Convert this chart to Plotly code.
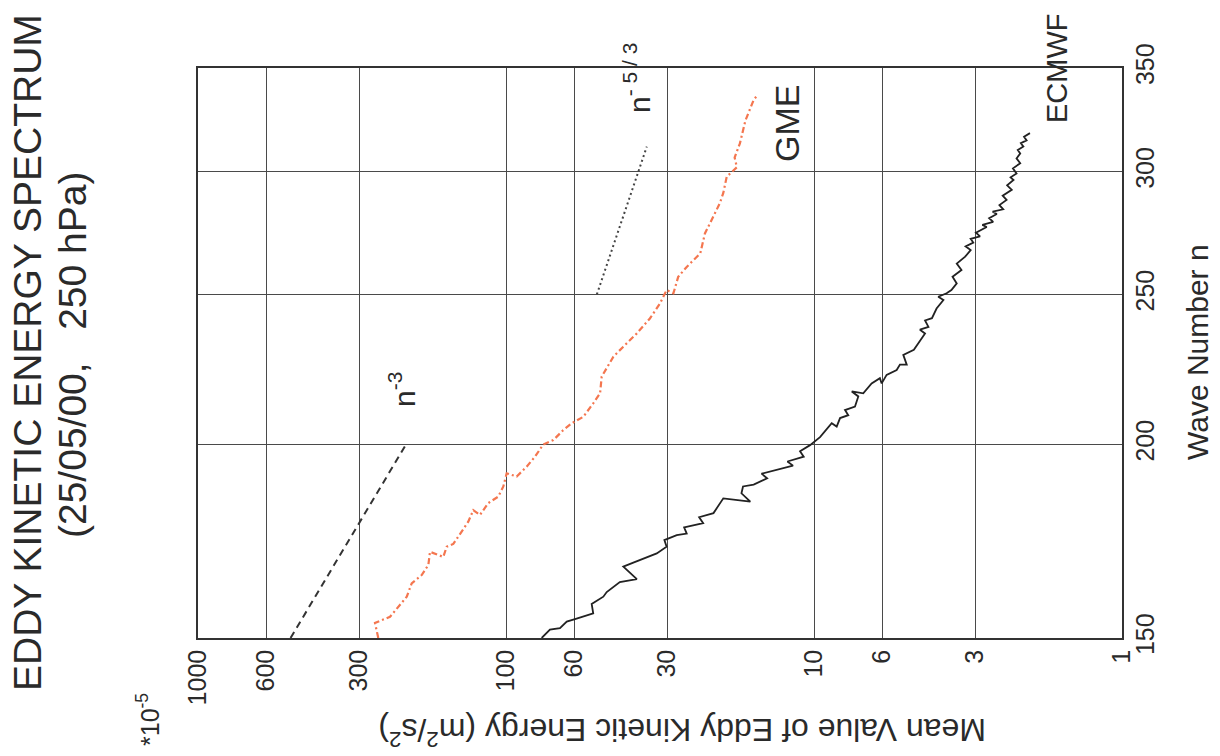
import plotly.graph_objects as go

# ---------------- data ----------------
energy_ticks = [1000, 600, 300, 100, 60, 30, 10, 6, 3, 1]
wave_ticks = [150, 200, 250, 300, 350]

gme_n = [150.0, 153.4, 154.8, 159.5, 162.7, 164.7, 167.2, 170.5, 169.2, 171.8,
         172.5, 178.3, 181.4, 180.1, 183.3, 185.1, 187.9, 191.6, 190.7, 193.5,
         196.4, 200.0, 201.3, 204.3, 206.4, 208.4, 212.6, 215.8, 221.2, 227.9,
         231.3, 235.9, 241.2, 246.7, 251.6, 250.4, 256.6, 260.4, 265.7, 273.7,
         280.8, 286.4, 290.7, 297.8, 302.0, 306.4, 312.9, 323.7, 333.8, 335.4]
gme_E = [259.8, 266.3, 238.0, 210.0, 202.4, 187.8, 178.7, 176.5, 159.8, 155.8,
         148.3, 132.6, 127.7, 121.5, 114.2, 105.9, 102.0, 99.5, 92.3, 85.7,
         80.5, 75.7, 70.2, 65.2, 61.2, 56.1, 52.1, 49.5, 48.9, 44.8,
         41.6, 37.6, 34.1, 31.6, 30.1, 28.6, 27.6, 25.9, 23.4, 22.6,
         21.2, 20.2, 19.7, 19.2, 17.8, 18.1, 17.4, 16.7, 15.7, 15.4]

ecmwf_n = [150.0, 151.9, 152.2, 153.7, 154.4, 155.6, 157.8, 159.5, 160.6, 163.0,
           163.7, 166.8, 167.8, 170.1, 171.8, 173.5, 174.8, 175.2, 176.8, 177.9,
           179.5, 180.6, 184.6, 183.7, 186.0, 187.9, 188.4, 190.2, 191.5, 193.1,
           193.8, 195.0, 196.4, 198.0, 199.8, 202.2, 203.9, 206.4, 205.4, 208.0,
           208.9, 210.5, 211.6, 214.8, 216.4, 215.8, 219.0, 220.7, 219.0, 221.8,
           223.4, 225.2, 225.2, 228.5, 230.2, 233.0, 235.9, 237.2, 238.2, 240.5,
           241.3, 244.8, 247.9, 249.1, 250.4, 251.6, 254.1, 256.6, 259.2, 261.7,
           264.4, 267.0, 268.5, 270.0, 271.5, 272.5, 274.0, 276.3, 277.2, 278.4,
           280.0, 281.7, 282.7, 283.7, 285.5, 287.7, 289.5, 292.0, 294.0, 296.3,
           297.5, 299.2, 301.5, 303.8, 306.0, 308.2, 309.8, 311.4, 313.0, 314.3,
           316.0, 317.7]
ecmwf_E = [76.6, 72.0, 66.8, 63.5, 59.0, 52.1, 52.7, 48.3, 47.1, 42.7,
           37.6, 41.6, 38.6, 32.4, 30.1, 30.6, 27.9, 25.9, 26.4, 22.9,
           23.6, 21.2, 19.7, 16.1, 17.2, 17.0, 15.7, 14.2, 14.8, 12.6,
           11.7, 12.2, 10.8, 11.1, 10.3, 9.56, 9.21, 8.76, 8.44, 8.23,
           7.74, 7.93, 7.36, 7.18, 7.54, 6.92, 6.50, 6.11, 6.03, 5.81,
           5.39, 5.26, 5.00, 5.13, 4.74, 4.56, 4.36, 4.53, 4.25, 4.36,
           4.14, 4.00, 3.80, 3.95, 3.71, 3.58, 3.44, 3.55, 3.32, 3.44,
           3.23, 3.10, 3.22, 3.04, 3.10, 2.89, 2.98, 2.75, 2.84, 2.62,
           2.70, 2.55, 2.63, 2.43, 2.50, 2.37, 2.44, 2.28, 2.36, 2.25,
           2.30, 2.20, 2.26, 2.14, 2.20, 2.14, 2.18, 2.09, 2.13, 2.04,
           2.08, 1.99]

ref3_n = [150.0, 200.5]
ref3_E = [500.6, 209.6]
ref53_n = [250.0, 311.4]
ref53_E = [50.7, 34.9]

# ---------------- figure ----------------
FONT = "Liberation Sans, Arial, Helvetica, sans-serif"
TXT = "#2a2a2a"

fig = go.Figure()
fig.add_trace(go.Scatter(x=ref3_E, y=ref3_n, mode="lines",
                         line=dict(color="#333333", width=2, dash="7px,5px"),
                         showlegend=False, hoverinfo="skip"))
fig.add_trace(go.Scatter(x=ref53_E, y=ref53_n, mode="lines",
                         line=dict(color="#444444", width=2, dash="2px,3px"),
                         showlegend=False, hoverinfo="skip"))
fig.add_trace(go.Scatter(x=gme_E, y=gme_n, mode="lines",
                         line=dict(color="#f4764f", width=2.2, dash="6px,3px,2px,3px"),
                         showlegend=False))
fig.add_trace(go.Scatter(x=ecmwf_E, y=ecmwf_n, mode="lines",
                         line=dict(color="#222222", width=1.8),
                         showlegend=False))

L, R, T, B = 198, 1122, 68, 638
W, H = 1220, 756


def pxx(x):
    return (x - L) / (R - L)


def pyy(y):
    return (B - y) / (B - T)


def ann(text, x, y, size, angle=-90):
    fig.add_annotation(text=text, x=pxx(x), y=pyy(y), xref="paper", yref="paper",
                       showarrow=False, textangle=angle, xanchor="center",
                       yanchor="middle", font=dict(family=FONT, size=size, color=TXT))


ann("EDDY KINETIC ENERGY SPECTRUM", 27, 353, 39)
ann("(25/05/00,\u00a0\u00a0 250 hPa)", 72, 355, 39)
ann("*10<sup>-5</sup>", 148, 720, 25)
ann("Mean Value of Eddy Kinetic Energy (m<sup>2</sup>/s<sup>2</sup>)", 682, 732, 32, angle=180)
ann("Wave Number n", 1197, 352, 30)
ann("n<sup>-3</sup>", 402, 390, 30)
ann("n<sup>- 5 / 3</sup>", 637, 78, 30)
ann("GME", 787, 124, 34)
ann("ECMWF", 1057, 68, 29)

fig.update_xaxes(type="log", range=[3, 0],
                 tickvals=energy_ticks, ticktext=[str(v) for v in energy_ticks],
                 tickangle=-90, tickfont=dict(family=FONT, size=25, color=TXT),
                 showgrid=True, gridcolor="#4a4a4a", gridwidth=1,
                 showline=True, mirror=True, linecolor="#333333", linewidth=1.5,
                 ticks="", zeroline=False)
fig.update_yaxes(type="log", range=[2.176091259, 2.544068044], side="right",
                 tickvals=wave_ticks, ticktext=[str(v) for v in wave_ticks],
                 tickangle=-90, tickfont=dict(family=FONT, size=25, color=TXT),
                 showgrid=True, gridcolor="#4a4a4a", gridwidth=1,
                 showline=True, mirror=True, linecolor="#333333", linewidth=1.5,
                 ticks="", zeroline=False)

fig.update_layout(width=W, height=H,
                  margin=dict(l=L, r=W - R, t=T, b=H - B, pad=0),
                  paper_bgcolor="white", plot_bgcolor="white",
                  font=dict(family=FONT, color=TXT))

fig.write_html("out.html")
